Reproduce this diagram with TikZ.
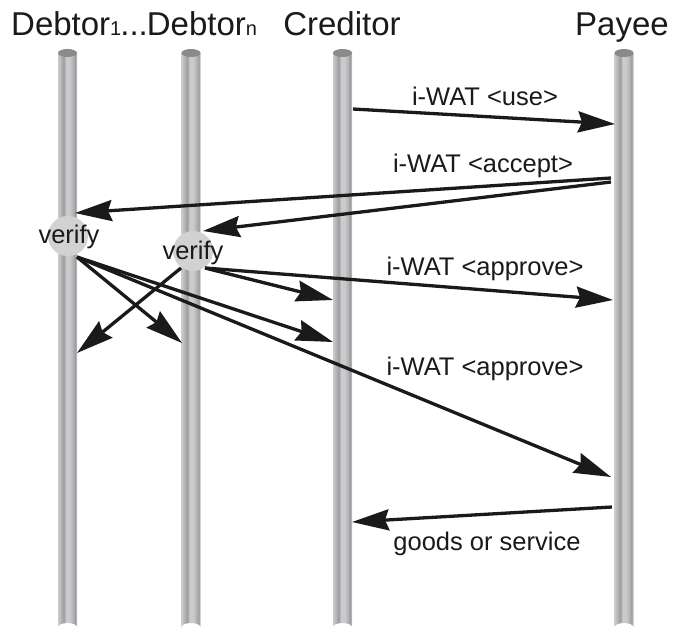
\documentclass[tikz,border=0pt]{standalone}
\usepackage{fontspec}
\setmainfont{Liberation Sans}
\usetikzlibrary{arrows.meta}
\definecolor{pA}{HTML}{CBCBCD}
\definecolor{pB}{HTML}{B4B4B6}
\definecolor{pC}{HTML}{9C9C9E}
\definecolor{capc}{HTML}{8A8A8C}
\definecolor{vfill}{HTML}{D2D2D2}
\definecolor{ink}{HTML}{1A1A1A}
\pgfdeclarehorizontalshading{pole}{100bp}{color(0bp)=(pA); color(25bp)=(pA); color(33bp)=(pB); color(40bp)=(pC); color(46bp)=(pA); color(55bp)=(pA); color(64bp)=(pB); color(70bp)=(pC); color(75bp)=(pA); color(100bp)=(pA)}
\newcommand{\drawpole}[1]{%
  \shade[shading=pole] (#1-9.5,53) -- (#1-9.5,627) arc[start angle=180,end angle=360,x radius=9.5,y radius=4] -- (#1+9.5,53) -- cycle;
  \fill[capc] (#1,53) ellipse[x radius=9.5,y radius=4];
}
\tikzset{
  msg/.style={draw=ink, line width=3.3pt, -{Stealth[length=37pt,width=21pt,inset=4pt]}},
  head/.style={font=\fontsize{33}{38}\selectfont, text=ink, anchor=base, inner sep=0pt},
  lbl/.style={font=\fontsize{25.5}{30}\selectfont, text=ink, anchor=base, inner sep=0pt},
  verifyc/.style={circle, fill=vfill, minimum size=40pt, inner sep=0pt},
}
\begin{document}
\begin{tikzpicture}[x=1pt,y=-1pt]
\useasboundingbox (0,0) rectangle (684,634);
\fill[white] (0,0) rectangle (684,634);
% poles
\drawpole{67.5}
\drawpole{191}
\drawpole{342.5}
\drawpole{624}
% headers
\node[head, anchor=base west] (hdeb) at (11,36) {Debtor{\fontsize{20}{20}\selectfont 1}\kern-1pt...\kern-1ptDebtor{\fontsize{20}{20}\selectfont n}};
\node[head] (hcred) at (342,36) {Creditor};
\node[head] (hpay) at (622,36) {Payee};
% verify circles
\node[verifyc] (v1) at (68,236) {};
\node[verifyc] (v2) at (193,251) {};
\node[lbl] (tv1) at (69,243) {verify};
\node[lbl] (tv2) at (193,259) {verify};
% coordinates
\coordinate (a1s) at (353,109);
\coordinate (a1e) at (615,124);
\coordinate (a2s) at (611,178);
\coordinate (a2e) at (75,213);
\coordinate (a3s) at (611,182);
\coordinate (a3e) at (203,231);
\coordinate (v1o) at (77,257);
\coordinate (v2o) at (205,268);
\coordinate (v2l) at (181,268);
\coordinate (dn1) at (182,343);
\coordinate (cr1) at (333,342);
\coordinate (py1) at (611,477);
\coordinate (d11) at (77,353);
\coordinate (cr2) at (333,300);
\coordinate (py2) at (613,300);
\coordinate (gs) at (612,507);
\coordinate (ge) at (352,522);
% messages
\draw[msg] (a1s) -- (a1e);
\draw[msg] (a2s) -- (a2e);
\draw[msg] (a3s) -- (a3e);
\draw[msg] (v1o) -- (dn1);
\draw[msg] (v1o) -- (cr1);
\draw[msg] (v1o) -- (py1);
\draw[msg] (v2l) -- (d11);
\draw[msg] (v2o) -- (cr2);
\draw[msg] (v2o) -- (py2);
\draw[msg] (gs) -- (ge);
% labels
\node[lbl] (l1) at (485,105) {i-WAT <use>};
\node[lbl] (l2) at (483,172) {i-WAT <accept>};
\node[lbl] (l3) at (485,275) {i-WAT <approve>};
\node[lbl] (l4) at (485,375) {i-WAT <approve>};
\node[lbl] (l5) at (487,550) {goods or service};
\end{tikzpicture}
\end{document}
